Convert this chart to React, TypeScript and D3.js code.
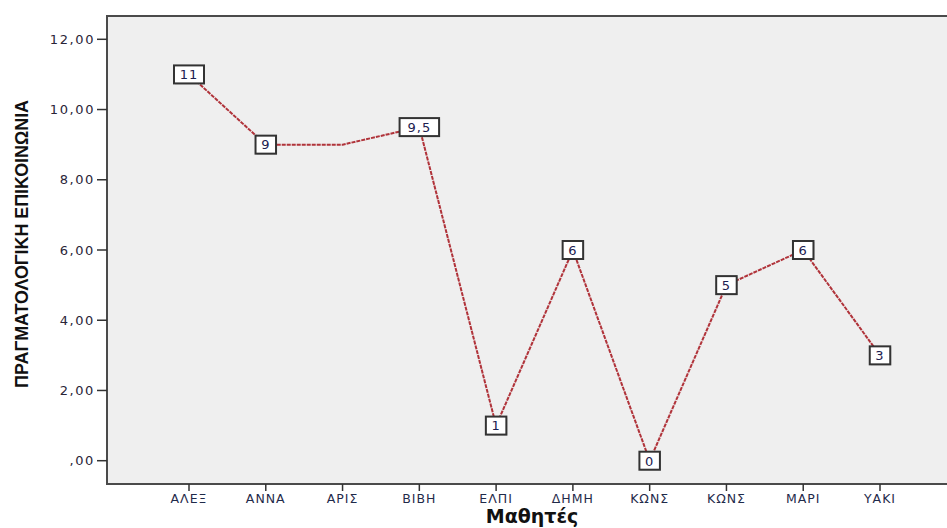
import React from "react";
import * as d3 from "d3";

const students = ["ΑΛΕΞ", "ΑΝΝΑ", "ΑΡΙΣ", "ΒΙΒΗ", "ΕΛΠΙ", "ΔΗΜΗ", "ΚΩΝΣ", "ΚΩΝΣ ", "ΜΑΡΙ", "ΥΑΚΙ"];
const tickNames = ["ΑΛΕΞ", "ΑΝΝΑ", "ΑΡΙΣ", "ΒΙΒΗ", "ΕΛΠΙ", "ΔΗΜΗ", "ΚΩΝΣ", "ΚΩΝΣ", "ΜΑΡΙ", "ΥΑΚΙ"];
const scores = [11, 9, 9, 9.5, 1, 6, 0, 5, 6, 3];
const showLabel = [true, true, false, true, true, true, true, true, true, true];
const yTicks = [0, 2, 4, 6, 8, 10, 12];

const W = 947;
const H = 528;
const frame = { left: 107, top: 16, right: 962, bottom: 484 };

const fmt = (v: number) => {
  const s = v.toFixed(2).replace(".", ",");
  return s.startsWith("0") ? s.slice(1) : s;
};
const fmtLabel = (v: number) => String(v).replace(".", ",");

export default function App() {
  const x = d3
    .scalePoint<string>()
    .domain(students)
    .range([189, 880]);
  const y = d3.scaleLinear().domain([0, 12]).range([460.7, 39.3]);

  const line = d3
    .line<number>()
    .x((_, i) => x(students[i]) as number)
    .y((d) => y(d));

  const sans = "'DejaVu Sans', Verdana, sans-serif";

  return (
    <svg
      width={W}
      height={H}
      style={{ position: "absolute", left: 0, top: 0, background: "#fff" }}
    >
      <rect
        x={frame.left}
        y={frame.top}
        width={frame.right - frame.left}
        height={frame.bottom - frame.top}
        fill="#efefef"
        stroke="#4a4a4a"
        strokeWidth={2}
      />

      {/* y axis ticks */}
      {yTicks.map((t) => (
        <g key={t}>
          <line x1={frame.left - 10} x2={frame.left} y1={y(t)} y2={y(t)} stroke="#333" strokeWidth={1.5} />
          <text
            x={frame.left - 12}
            y={y(t)}
            dy="0.36em"
            textAnchor="end"
            fontFamily={sans}
            fontSize={13}
            letterSpacing={1.6}
            fill="#2a2438"
          >
            {fmt(t)}
          </text>
        </g>
      ))}

      {/* x axis ticks */}
      {students.map((s, i) => (
        <g key={s}>
          <line
            x1={x(s)}
            x2={x(s)}
            y1={frame.bottom}
            y2={frame.bottom + 7}
            stroke="#333"
            strokeWidth={1.5}
          />
          <text
            x={x(s)}
            y={frame.bottom + 19}
            textAnchor="middle"
            fontFamily={sans}
            fontSize={12.5}
            letterSpacing={1}
            fill="#1f2a4a"
          >
            {tickNames[i]}
          </text>
        </g>
      ))}

      {/* series */}
      <path
        d={line(scores) ?? ""}
        fill="none"
        stroke="#b0333a"
        strokeWidth={2}
        strokeDasharray="4,1"
      />

      {/* value labels */}
      {scores.map((v, i) => {
        if (!showLabel[i]) return null;
        const txt = fmtLabel(v);
        const w = txt.length * 9.5 + 11;
        const h = 18;
        const cx = x(students[i]) as number;
        const cy = y(v);
        return (
          <g key={i}>
            <rect
              x={cx - w / 2 + 1}
              y={cy - h / 2 + 1}
              width={w}
              height={h}
              fill="#999"
              opacity={0.5}
            />
            <rect
              x={cx - w / 2}
              y={cy - h / 2}
              width={w}
              height={h}
              fill="#fff"
              stroke="#333"
              strokeWidth={2}
            />
            <text
              x={cx}
              y={cy}
              dy="0.37em"
              textAnchor="middle"
              fontFamily={sans}
              fontSize={13}
              letterSpacing={1}
              fill="#1c2050"
            >
              {txt}
            </text>
          </g>
        );
      })}

      {/* axis titles */}
      <text
        transform={`translate(28,244) rotate(-90)`}
        textAnchor="middle"
        fontFamily="'Liberation Sans Narrow', 'Liberation Sans', Arial, sans-serif"
        fontWeight="bold"
        fontSize={19}
        textLength={288}
        lengthAdjust="spacingAndGlyphs"
        fill="#111"
      >
        ΠΡΑΓΜΑΤΟΛΟΓΙΚΗ ΕΠΙΚΟΙΝΩΝΙΑ
      </text>
      <text
        x={532}
        y={523}
        textAnchor="middle"
        fontFamily={sans}
        fontWeight="bold"
        fontSize={19}
        fill="#111"
      >
        Μαθητές
      </text>
    </svg>
  );
}
